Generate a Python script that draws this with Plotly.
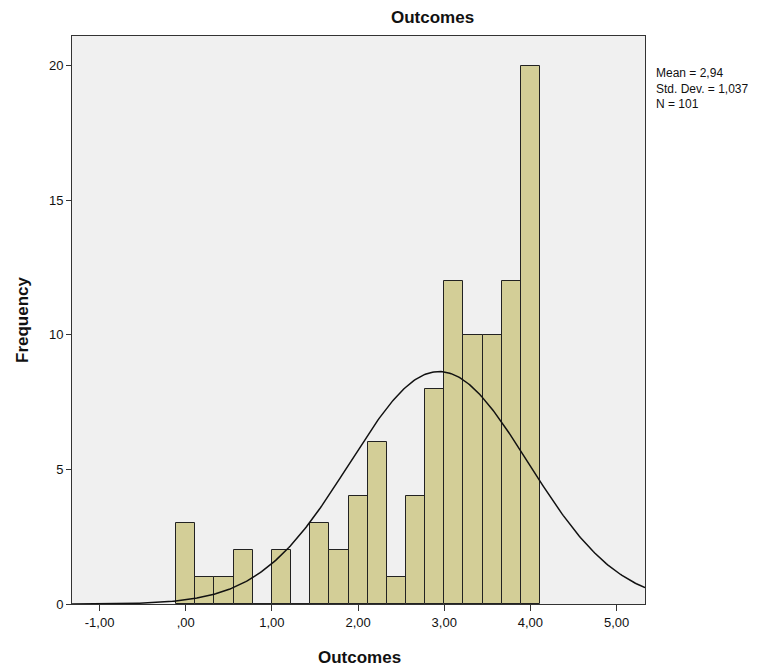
import numpy as np
import plotly.graph_objects as go

# Data
counts = [3, 1, 1, 2, 0, 2, 0, 3, 2, 4, 6, 1, 4, 8, 12, 10, 10, 12, 20]
bin_start = -0.1111
bin_width = 4.2222 / 19
mean, sd, n = 2.94, 1.037, 101

x_tick_vals = [-1, 0, 1, 2, 3, 4, 5]
x_tick_text = ["-1,00", ",00", "1,00", "2,00", "3,00", "4,00", "5,00"]
y_tick_vals = [0, 5, 10, 15, 20]

centers = [bin_start + bin_width * (i + 0.5) for i in range(len(counts))]

xs = np.linspace(-1.32, 5.33, 400)
ys = n * bin_width / (sd * np.sqrt(2 * np.pi)) * np.exp(-0.5 * ((xs - mean) / sd) ** 2)

fig = go.Figure()
fig.add_trace(go.Bar(
    x=centers, y=counts, width=bin_width,
    marker=dict(color="#D3CE97", line=dict(color="#222222", width=1)),
    hoverinfo="x+y",
))
fig.add_trace(go.Scatter(
    x=xs, y=ys, mode="lines",
    line=dict(color="#111111", width=1.5),
    hoverinfo="skip",
))

font = "Liberation Sans, Arial, sans-serif"
W, H = 573, 568  # plot area size in px
fig.update_layout(
    width=775, height=671,
    margin=dict(l=72, r=130, t=36, b=67),
    paper_bgcolor="white",
    plot_bgcolor="#F0F0F0",
    showlegend=False,
    bargap=0,
    font=dict(family=font, size=12, color="#111111"),
    xaxis=dict(
        range=[-1.32, 5.33],
        tickvals=x_tick_vals, ticktext=x_tick_text,
        ticks="outside", ticklen=6, tickcolor="#333333",
        showgrid=False, zeroline=False,
        showline=True, linecolor="#333333", linewidth=1, mirror=True,
        tickfont=dict(size=13, family=font),
    ),
    yaxis=dict(
        range=[0, 21.1],
        tickvals=y_tick_vals,
        ticks="outside", ticklen=5, tickcolor="#333333",
        showgrid=False, zeroline=False,
        showline=True, linecolor="#333333", linewidth=1, mirror=True,
        tickfont=dict(size=13, family=font),
    ),
    annotations=[
        dict(text="<b>Outcomes</b>", x=(432 - 72) / W, y=1 + (36 - 18) / H,
             xref="x domain", yref="y domain", xanchor="center", yanchor="middle",
             showarrow=False, font=dict(size=17, family=font)),
        dict(text="<b>Frequency</b>", x=-(72 - 22) / W, y=0.5, xref="x domain", yref="y domain",
             xanchor="center", yanchor="middle",
             textangle=-90, showarrow=False, font=dict(size=17, family=font)),
        dict(text="<b>Outcomes</b>", x=(359 - 72) / W, y=-(657 - 604) / H,
             xref="x domain", yref="y domain", xanchor="center", yanchor="middle",
             showarrow=False, font=dict(size=17, family=font)),
        dict(text="Mean = 2,94<br>Std. Dev. = 1,037<br>N = 101",
             x=1 + 9 / W, y=1 - 28 / H, xref="x domain", yref="y domain",
             xanchor="left", yanchor="top", align="left", showarrow=False,
             font=dict(size=12, family=font)),
    ],
)

fig.write_html("out.html")
